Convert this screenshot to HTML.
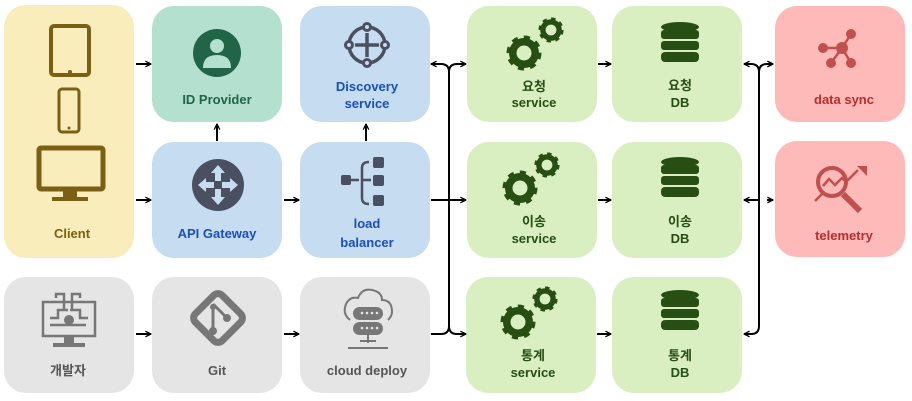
<!DOCTYPE html>
<html><head><meta charset="utf-8"><style>
html,body{margin:0;padding:0;background:#fff}
svg{display:block}
text{font-family:"Liberation Sans","Noto Sans CJK KR",sans-serif;font-weight:bold;text-anchor:middle;font-size:13px}
</style></head><body>
<svg width="912" height="401" viewBox="0 0 912 401" xmlns="http://www.w3.org/2000/svg">
<defs>
<marker id="a" viewBox="0 0 10 10" refX="9" refY="5" markerWidth="7" markerHeight="7" orient="auto-start-reverse" markerUnits="userSpaceOnUse">
<path d="M1,1 L9,5 L1,9" fill="none" stroke="#000" stroke-width="1.8"/></marker>
<g id="gear"><circle r="11" fill="none" stroke="#274e13" stroke-width="6" stroke-dasharray="4.3 4.3"/><circle r="9" fill="none" stroke="#274e13" stroke-width="6"/></g>
<g id="gears"><g transform="translate(-12,14) scale(1.25)"><use href="#gear"/></g><g transform="translate(15,-9) scale(0.9)"><use href="#gear"/></g></g>
<g id="db" fill="#274e13"><ellipse cx="0" cy="-18" rx="19" ry="5"/><rect x="-19" y="-15" width="38" height="9" rx="3"/><rect x="-19" y="-4" width="38" height="9" rx="3"/><rect x="-19" y="7" width="38" height="10" rx="4"/></g>
</defs>
<!-- boxes -->
<rect x="4" y="5" width="130" height="253" rx="22" fill="#f9edbb"/>
<rect x="152" y="6" width="130" height="116" rx="22" fill="#b3e0cf"/>
<rect x="300" y="6" width="130" height="116" rx="22" fill="#c6dcf1"/>
<rect x="152" y="142" width="130" height="116" rx="22" fill="#c6dcf1"/>
<rect x="300" y="142" width="130" height="116" rx="22" fill="#c6dcf1"/>
<rect x="4" y="277" width="130" height="116" rx="22" fill="#e5e5e5"/>
<rect x="152" y="277" width="130" height="116" rx="22" fill="#e5e5e5"/>
<rect x="300" y="277" width="130" height="116" rx="22" fill="#e5e5e5"/>
<rect x="467" y="6" width="130" height="116" rx="22" fill="#d9efc2"/>
<rect x="467" y="142" width="130" height="116" rx="22" fill="#d9efc2"/>
<rect x="466" y="277" width="130" height="116" rx="22" fill="#d9efc2"/>
<rect x="612" y="6" width="130" height="116" rx="22" fill="#d9efc2"/>
<rect x="612" y="142" width="130" height="116" rx="22" fill="#d9efc2"/>
<rect x="612" y="277" width="130" height="116" rx="22" fill="#d9efc2"/>
<rect x="775" y="6" width="130" height="116" rx="22" fill="#feb9b9"/>
<rect x="775" y="141" width="130" height="116" rx="22" fill="#feb9b9"/>

<!-- client icons -->
<g fill="none" stroke="#7a5f14">
<rect x="51" y="26" width="38" height="49" rx="3" stroke-width="4"/>
<rect x="59" y="89" width="20" height="43" rx="3" stroke-width="3"/>
<rect x="39" y="148" width="64" height="41" rx="2" stroke-width="5"/>
</g>
<g fill="#7a5f14"><circle cx="70" cy="72" r="2"/><rect x="63" y="191" width="14" height="6"/><rect x="52" y="197" width="36" height="4"/><circle cx="69" cy="128" r="1.5"/></g>
<text x="72" y="238" fill="#7a5f14" font-size="14">Client</text>

<!-- ID provider -->
<circle cx="217" cy="53" r="24" fill="#226447"/>
<circle cx="217" cy="46" r="7" fill="#b3e0cf"/>
<path d="M203,68 q0,-13 14,-13 q14,0 14,13 z" fill="#b3e0cf"/>
<text x="217" y="104" fill="#226447" font-size="14">ID Provider</text>

<!-- Discovery -->
<g stroke="#4a4f62" stroke-width="3.5" fill="none"><circle cx="367" cy="45" r="18"/><path d="M367,33 v24 M355,45 h24"/></g>
<g fill="#c6dcf1" stroke="#4a4f62" stroke-width="3"><circle cx="367" cy="27" r="3.5"/><circle cx="367" cy="63" r="3.5"/><circle cx="349" cy="45" r="3.5"/><circle cx="385" cy="45" r="3.5"/></g>
<text x="367" y="91" fill="#1b4fb5" font-size="12.5">Discovery</text>
<text x="367" y="108" fill="#1b4fb5" font-size="12.5">service</text>

<!-- API gateway -->
<circle cx="218" cy="185" r="26" fill="#4a4f62"/>
<g fill="#c6dcf1"><path d="M218,165 l-7,8 h4 v8 h6 v-8 h4 z"/><path d="M218,205 l-7,-8 h4 v-8 h6 v8 h4 z"/><path d="M198,185 l8,-7 v4 h8 v6 h-8 v4 z"/><path d="M238,185 l-8,-7 v4 h-8 v6 h8 v4 z"/></g>
<text x="217" y="238" fill="#1b4fb5" font-size="14">API Gateway</text>

<!-- load balancer -->
<g fill="#4a4f62"><rect x="341" y="175" width="10" height="10" rx="2"/><rect x="373" y="157" width="11" height="11" rx="2"/><rect x="373" y="175" width="11" height="11" rx="2"/><rect x="373" y="195" width="11" height="11" rx="2"/></g>
<path d="M351,180 h8 M369,162 q-7,0 -7,6 v30 q0,6 7,6 M362,180 h9" stroke="#4a4f62" stroke-width="2.5" fill="none"/>
<text x="367" y="228" fill="#1b4fb5" font-size="14">load</text>
<text x="367" y="247" fill="#1b4fb5" font-size="14">balancer</text>

<!-- 개발자 -->
<g fill="none" stroke="#777" stroke-width="2.5"><rect x="43" y="302" width="52" height="34"/><path d="M50,318 h8 v-8 h10 M88,318 h-8 v-8 h-10 M50,325 h20 M86,325 h-16 M56,298 v-4 h8 v16 M80,298 v-4 h-8 v16"/></g>
<g fill="#777"><circle cx="69" cy="320" r="5"/><rect x="64" y="336" width="10" height="7"/><rect x="53" y="343" width="32" height="4"/></g>
<text x="68" y="375" fill="#555" font-size="13">개발자</text>

<!-- Git -->
<rect x="199" y="299" width="38" height="38" rx="6" transform="rotate(45 218 318)" fill="none" stroke="#777" stroke-width="7"/>
<g fill="#777"><path d="M213,304 l14,14" stroke="#777" stroke-width="3"/><path d="M213,304 v27" stroke="#777" stroke-width="3"/><circle cx="213" cy="331" r="4"/><circle cx="227" cy="318" r="4"/><circle cx="213" cy="307" r="3"/></g>
<text x="217" y="375" fill="#555" font-size="14">Git</text>

<!-- cloud deploy -->
<path d="M350,320 q-8,-6 -4,-16 q4,-8 12,-6 q4,-10 14,-8 q10,2 10,10 q10,0 10,12 q0,4 -4,8" fill="none" stroke="#777" stroke-width="2"/>
<rect x="353" y="307" width="30" height="13" rx="6.5" fill="#777"/><rect x="353" y="322" width="30" height="13" rx="6.5" fill="#777"/>
<g fill="#e5e5e5"><circle cx="362" cy="313" r="1.3"/><circle cx="367" cy="313" r="1.3"/><circle cx="372" cy="313" r="1.3"/><circle cx="377" cy="313" r="1.3"/><circle cx="362" cy="328" r="1.3"/><circle cx="367" cy="328" r="1.3"/><circle cx="372" cy="328" r="1.3"/><circle cx="377" cy="328" r="1.3"/></g>
<path d="M368,335 v8 M360,341 h16 M348,348 h40" stroke="#777" stroke-width="2"/>
<text x="367" y="375" fill="#555" font-size="14">cloud deploy</text>

<!-- services -->
<g transform="translate(536,39)"><use href="#gears"/></g>
<g transform="translate(532,174)"><use href="#gears"/></g>
<g transform="translate(530,308)"><use href="#gears"/></g>
<g fill="#274e13" font-size="12.5">
<text x="534" y="91">요청</text><text x="534" y="107">service</text>
<text x="534" y="226">이송</text><text x="534" y="243">service</text>
<text x="533" y="360">통계</text><text x="533" y="377">service</text>
<text x="680" y="90">요청</text><text x="680" y="107">DB</text>
<text x="680" y="226">이송</text><text x="680" y="243">DB</text>
<text x="680" y="360">통계</text><text x="680" y="377">DB</text>
</g>
<g transform="translate(680,45)"><use href="#db"/></g>
<g transform="translate(680,180)"><use href="#db"/></g>
<g transform="translate(680,313)"><use href="#db"/></g>

<!-- data sync -->
<g stroke="#c0504d" stroke-width="2.5" fill="none"><path d="M823,48 L842,48 L851,34 M842,48 L831,63 M842,48 L851,63"/></g>
<g fill="#c0504d"><circle cx="823" cy="48" r="5"/><circle cx="842" cy="48" r="6"/><circle cx="851" cy="34" r="5"/><circle cx="831" cy="63" r="5"/><circle cx="851" cy="63" r="5"/></g>
<text x="844" y="104" fill="#b72e2e" font-size="12.5">data sync</text>
<!-- telemetry -->
<g fill="none" stroke="#c0504d"><circle cx="832" cy="182" r="14" stroke-width="4"/><path d="M843,194 l17,17" stroke-width="6"/><path d="M823,186 l6,-7 l6,6 l7,-7 l4,4 l12,-12" stroke-width="2.5"/><path d="M815,201 l7,-7" stroke-width="2.5"/></g>
<path d="M857,166 h10 v10 z" fill="#c0504d"/>
<text x="844" y="240" fill="#b72e2e" font-size="12.5">telemetry</text>

<!-- arrows -->
<g stroke="#000" stroke-width="2" fill="none" marker-end="url(#a)">
<path d="M136,64 H151"/><path d="M136,200 H151"/>
<path d="M284,200 H299"/><path d="M136,334 H151"/><path d="M284,334 H299"/>
<path d="M217,141 V124"/><path d="M366,141 V124"/>
<path d="M449,72 V200 M431,200 H466"/>
<path d="M449,72 Q449,64 457,64 H466"/>
<path d="M449,72 Q449,64 441,64 H431"/>
<path d="M449,198 V326 Q449,334 441,334 H431" marker-end="none"/>
<path d="M449,326 Q449,334 457,334 H466" marker-end="url(#a)"/>
<path d="M598,64 H611"/><path d="M598,200 H611"/><path d="M597,334 H611"/>
<path d="M767,64 H773"/><path d="M767,200 H773"/>
<path d="M759,72 Q759,64 751,64 H744"/>
<path d="M759,200 H744"/>
<path d="M759,72 V326 Q759,334 751,334 H744"/>
<path d="M759,72 Q759,64 767,64 H773"/>
</g>
</svg>
</body></html>
